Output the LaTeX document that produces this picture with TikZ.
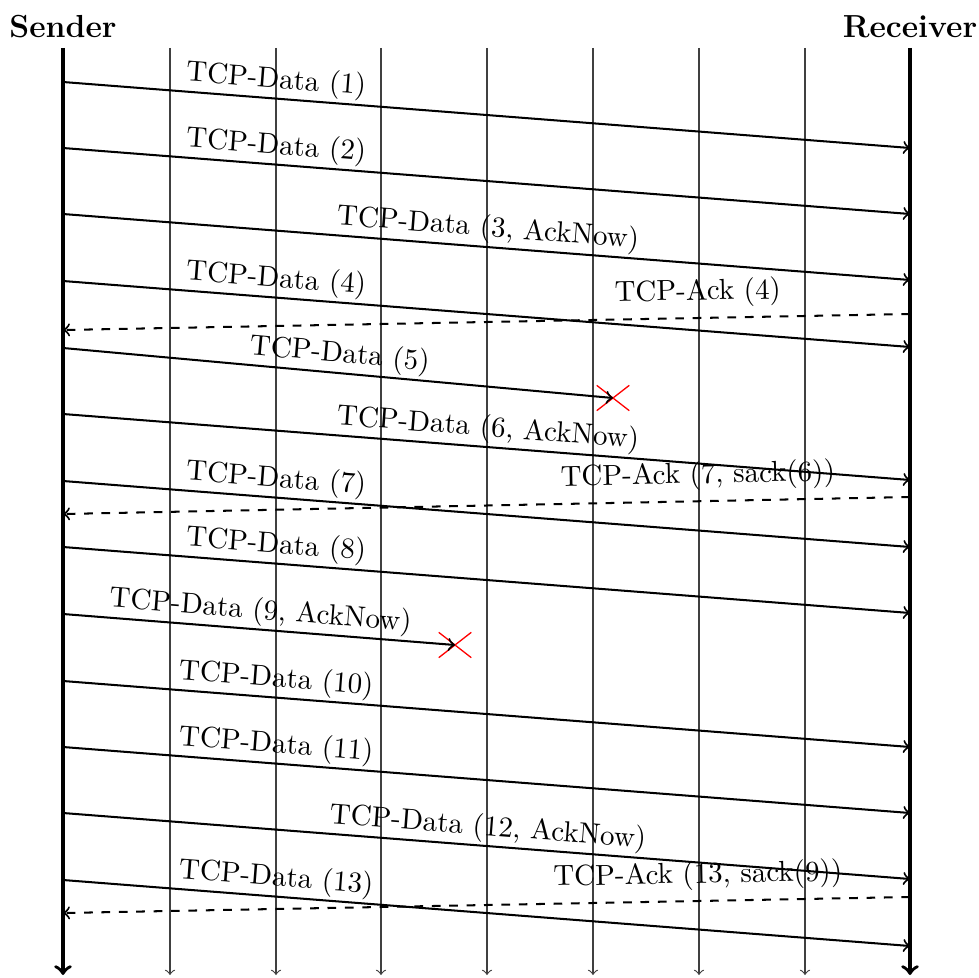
\documentclass[tikz,border=0pt]{standalone}
\usetikzlibrary{shapes.misc}
\begin{document}
\begin{tikzpicture}[x=0.345pt,y=-0.345pt,
  life/.style={line width=1.2pt,->},
  gridline/.style={black!75,line width=0.4pt,->},
  msg/.style={line width=0.7pt,->},
  ack/.style={line width=0.7pt,dashed,->},
  dlab/.style={sloped,above,inner sep=0.85pt},
  alab/.style={sloped,above},
  head/.style={above,font=\fontsize{11}{13}\selectfont\bfseries},
  lostmark/.style={draw=red,cross out,line width=0.45pt,minimum width=10.8pt,minimum height=8.3pt,inner sep=0pt}]
\useasboundingbox (0,0) rectangle (978,978);
% lifelines
\node[head] (S) at (63,48) {Sender};
\node[head] (R) at (910,48) {Receiver};
\coordinate (Sb) at (63,975);
\coordinate (Rb) at (910,975);
\foreach \i/\x in {1/170,2/276,3/381,4/487,5/593,6/699,7/805}{
  \coordinate (g\i t) at (\x,48);
  \coordinate (g\i b) at (\x,975);
  \draw[gridline] (g\i t) -- (g\i b);
}
\draw[life] (S.south) -- (Sb);
\draw[life] (R.south) -- (Rb);
% message end points
\foreach \i/\y in {1/82,2/148,3/214,4/281,5/348,6/414,7/481,8/547,9/614,10/681,11/747,12/813,13/880}{
  \coordinate (d\i s) at (63,\y);
  \pgfmathsetmacro{\ye}{\y+66}
  \coordinate (d\i e) at (910,\ye);
}
\node[lostmark] (x5) at (613,398) {};
\node[lostmark] (x9) at (455,645) {};
% data messages
\draw[msg] (d1s) -- node[dlab,pos=0.25]{TCP-Data (1)} (d1e);
\draw[msg] (d2s) -- node[dlab,pos=0.25]{TCP-Data (2)} (d2e);
\draw[msg] (d3s) -- node[dlab,pos=0.5]{TCP-Data (3, AckNow)} (d3e);
\draw[msg] (d4s) -- node[dlab,pos=0.25]{TCP-Data (4)} (d4e);
\draw[msg] (d5s) -- node[dlab,pos=0.5]{TCP-Data (5)} (x5.center);
\draw[msg] (d6s) -- node[dlab,pos=0.5]{TCP-Data (6, AckNow)} (d6e);
\draw[msg] (d7s) -- node[dlab,pos=0.25]{TCP-Data (7)} (d7e);
\draw[msg] (d8s) -- node[dlab,pos=0.25]{TCP-Data (8)} (d8e);
\draw[msg] (d9s) -- node[dlab,pos=0.5]{TCP-Data (9, AckNow)} (x9.center);
\draw[msg] (d10s) -- node[dlab,pos=0.25]{TCP-Data (10)} (d10e);
\draw[msg] (d11s) -- node[dlab,pos=0.25]{TCP-Data (11)} (d11e);
\draw[msg] (d12s) -- node[dlab,pos=0.5]{TCP-Data (12, AckNow)} (d12e);
\draw[msg] (d13s) -- node[dlab,pos=0.25]{TCP-Data (13)} (d13e);
% acks
\coordinate (a1s) at (910,314); \coordinate (a1e) at (63,330);
\coordinate (a2s) at (910,497); \coordinate (a2e) at (63,514);
\coordinate (a3s) at (910,897); \coordinate (a3e) at (63,913);
\draw[ack] (a1s) -- node[alab,pos=0.25]{TCP-Ack (4)} (a1e);
\draw[ack] (a2s) -- node[alab,pos=0.25]{TCP-Ack (7, sack(6))} (a2e);
\draw[ack] (a3s) -- node[alab,pos=0.25]{TCP-Ack (13, sack(9))} (a3e);
\end{tikzpicture}
\end{document}
